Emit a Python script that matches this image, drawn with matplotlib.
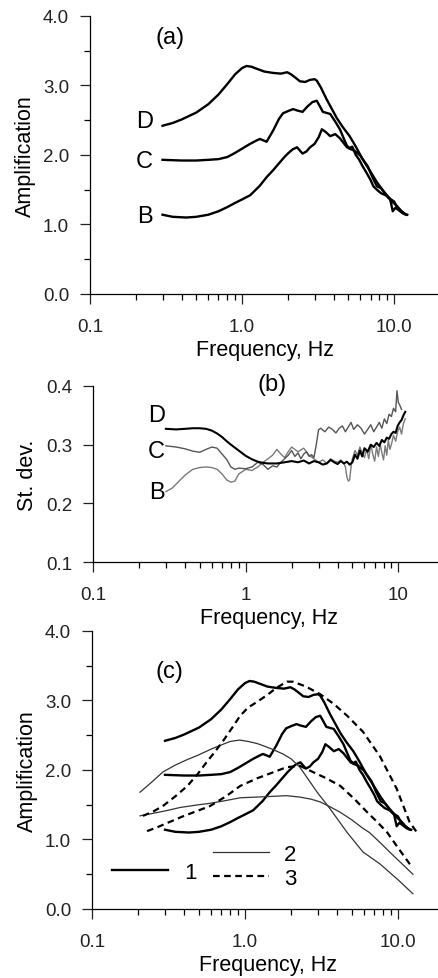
import matplotlib
matplotlib.use("Agg")
import matplotlib.pyplot as plt
from matplotlib.ticker import FixedLocator, FixedFormatter, LogLocator, NullFormatter, MultipleLocator, FormatStrFormatter

plt.rcParams['font.family'] = ['Liberation Sans', 'DejaVu Sans']

# ---- panel (a) / (c): amplification curves of sites D, C, B (curve set 1)
fD = [0.3, 0.35, 0.4, 0.5, 0.6, 0.7, 0.8, 0.9, 1.0, 1.07, 1.15, 1.25, 1.4, 1.6, 1.8, 1.98, 2.1, 2.25, 2.4, 2.6,
      2.8, 3.0, 3.1, 3.3, 3.6, 3.9, 4.2, 4.6, 5.1, 5.6, 6.2, 6.9, 7.7, 8.5, 9.2, 9.8, 10.5, 11.2, 11.8, 12.2]
aD = [2.42, 2.46, 2.51, 2.61, 2.73, 2.87, 3.02, 3.16, 3.25, 3.28, 3.27, 3.24, 3.20, 3.18, 3.17, 3.19, 3.16, 3.11, 3.06, 3.05,
      3.08, 3.09, 3.07, 2.97, 2.80, 2.66, 2.53, 2.40, 2.27, 2.12, 1.94, 1.78, 1.61, 1.48, 1.38, 1.32, 1.26, 1.19, 1.15, 1.14]

fC = [0.3, 0.4, 0.5, 0.6, 0.7, 0.8, 0.9, 1.0, 1.13, 1.25, 1.31, 1.38, 1.45, 1.6, 1.75, 1.86, 2.0, 2.17, 2.3, 2.5,
      2.7, 2.9, 3.1, 3.25, 3.4, 3.8, 4.1, 4.4, 4.7, 4.9, 5.1, 5.3, 5.6, 5.9, 6.2, 6.6, 7.0, 7.3, 7.7, 8.2, 8.8, 9.4,
      9.8, 10.2, 10.8, 11.4, 12.0]
aC = [1.93, 1.92, 1.92, 1.93, 1.94, 1.97, 2.03, 2.09, 2.16, 2.21, 2.23, 2.21, 2.19, 2.35, 2.52, 2.60, 2.63, 2.66, 2.64, 2.62,
      2.70, 2.76, 2.78, 2.70, 2.62, 2.59, 2.48, 2.37, 2.22, 2.13, 2.10, 2.12, 2.00, 1.93, 1.84, 1.74, 1.64, 1.55, 1.50, 1.45,
      1.42, 1.37, 1.19, 1.24, 1.20, 1.16, 1.14]

fB = [0.3, 0.35, 0.43, 0.5, 0.6, 0.7, 0.8, 0.9, 1.0, 1.13, 1.3, 1.45, 1.6, 1.75, 1.9, 2.0, 2.15, 2.3, 2.5, 2.65,
      2.8, 3.0, 3.2, 3.35, 3.55, 3.8, 4.1, 4.4, 4.7, 4.9, 5.1, 5.5, 6.0, 6.4, 6.7, 7.2, 7.7, 8.2, 8.8, 9.4,
      10.0, 10.4, 11.0, 11.8]
aB = [1.14, 1.11, 1.10, 1.11, 1.14, 1.19, 1.25, 1.31, 1.36, 1.42, 1.55, 1.68, 1.78, 1.88, 1.97, 2.02, 2.08, 2.11, 2.02, 2.05,
      2.11, 2.16, 2.26, 2.37, 2.33, 2.27, 2.30, 2.24, 2.16, 2.11, 2.09, 2.06, 1.99, 1.90, 1.84, 1.68, 1.55, 1.52, 1.44, 1.37,
      1.33, 1.26, 1.20, 1.15]

# ---- panel (b): standard deviation
fD_b = [0.3, 0.35, 0.4, 0.45, 0.5, 0.55, 0.6, 0.65, 0.7, 0.75, 0.8, 0.9, 1.0, 1.1, 1.2, 1.3, 1.4, 1.6, 1.8, 2.0,
        2.2, 2.4, 2.6, 2.8, 3.0, 3.2, 3.4, 3.6, 3.8, 4.0, 4.2, 4.4, 4.6, 4.8, 5.0, 5.2, 5.4, 5.6, 5.8, 6.0,
        6.3, 6.6, 6.9, 7.2, 7.5, 7.8, 8.1, 8.4, 8.7, 9.0, 9.3, 9.6, 9.9, 10.2, 10.5, 10.8, 11.1]
sdD = [0.327, 0.326, 0.327, 0.328, 0.328, 0.327, 0.324, 0.319, 0.313, 0.306, 0.300, 0.290, 0.281, 0.275, 0.271, 0.269,
       0.268, 0.268, 0.270, 0.272, 0.270, 0.273, 0.268, 0.272, 0.270, 0.266, 0.268, 0.274, 0.270, 0.267, 0.272, 0.268,
       0.271, 0.266, 0.270, 0.283, 0.276, 0.290, 0.280, 0.294, 0.288, 0.300, 0.296, 0.303, 0.298, 0.308, 0.304, 0.312,
       0.310, 0.318, 0.322, 0.320, 0.332, 0.338, 0.342, 0.350, 0.356]

fC_b = [0.3, 0.35, 0.4, 0.45, 0.5, 0.55, 0.6, 0.65, 0.7, 0.75, 0.8, 0.85, 0.9, 1.0, 1.1, 1.2, 1.3, 1.4, 1.5, 1.6,
        1.7, 1.8, 1.9, 2.0, 2.1, 2.2, 2.3, 2.4, 2.5, 2.6, 2.7, 2.8, 2.9, 3.0, 3.1, 3.3, 3.5, 3.7, 3.9, 4.1,
        4.3, 4.5, 4.7, 4.9, 5.1, 5.4, 5.7, 6.0, 6.3, 6.6, 6.9, 7.2, 7.5, 7.8, 8.1, 8.4, 8.7, 9.0, 9.3, 9.6,
        9.8, 10.0, 10.2, 10.5]
sdC = [0.298, 0.296, 0.293, 0.289, 0.287, 0.292, 0.296, 0.294, 0.284, 0.275, 0.262, 0.258, 0.260, 0.259, 0.262, 0.270,
       0.266, 0.258, 0.264, 0.262, 0.270, 0.276, 0.282, 0.290, 0.280, 0.286, 0.276, 0.284, 0.288, 0.280, 0.283, 0.278,
       0.300, 0.325, 0.328, 0.322, 0.330, 0.326, 0.320, 0.328, 0.332, 0.322, 0.330, 0.338, 0.326, 0.334, 0.328, 0.318,
       0.326, 0.334, 0.322, 0.330, 0.338, 0.328, 0.344, 0.336, 0.352, 0.348, 0.362, 0.356, 0.392, 0.372, 0.368, 0.360]

fB_b = [0.3, 0.33, 0.36, 0.4, 0.45, 0.5, 0.55, 0.6, 0.65, 0.7, 0.75, 0.8, 0.85, 0.9, 1.0, 1.1, 1.2, 1.3, 1.4, 1.5,
        1.6, 1.7, 1.8, 1.9, 2.0, 2.2, 2.4, 2.6, 2.8, 3.0, 3.2, 3.4, 3.6, 3.8, 4.0, 4.2, 4.4, 4.5, 4.6, 4.7,
        4.8, 4.9, 5.0, 5.2, 5.4, 5.6, 5.8, 6.0, 6.2, 6.4, 6.6, 6.8, 7.0, 7.2, 7.4, 7.6, 7.8, 8.0, 8.2, 8.4,
        8.6, 8.8, 9.0, 9.3, 9.6, 9.9, 10.2, 10.5, 10.8, 11.1]
sdB = [0.220, 0.226, 0.236, 0.248, 0.258, 0.261, 0.262, 0.261, 0.258, 0.250, 0.240, 0.236, 0.238, 0.250, 0.258, 0.256,
       0.262, 0.270, 0.276, 0.282, 0.292, 0.284, 0.278, 0.288, 0.296, 0.288, 0.294, 0.282, 0.276, 0.270, 0.274, 0.268,
       0.276, 0.272, 0.270, 0.274, 0.268, 0.262, 0.245, 0.238, 0.240, 0.262, 0.276, 0.290, 0.282, 0.296, 0.286, 0.278,
       0.292, 0.276, 0.300, 0.284, 0.272, 0.296, 0.280, 0.302, 0.286, 0.274, 0.298, 0.282, 0.308, 0.292, 0.300, 0.316,
       0.306, 0.322, 0.330, 0.318, 0.336, 0.344]

# ---- panel (c): curve sets 2 (thin) and 3 (dashed)
f2a = [0.206, 0.25, 0.29, 0.35, 0.42, 0.49, 0.6, 0.7, 0.8, 0.92, 1.05, 1.2, 1.31, 1.5, 1.77, 2.0, 2.28, 2.6, 2.96,
       3.6, 4.65, 5.9, 7.6, 10.0, 12.5]
a2a = [1.68, 1.84, 1.97, 2.07, 2.15, 2.21, 2.30, 2.36, 2.41, 2.43, 2.41, 2.38, 2.35, 2.30, 2.23, 2.16, 2.04, 1.86, 1.68,
       1.44, 1.10, 0.82, 0.65, 0.42, 0.22]
f2b = [0.206, 0.3, 0.376, 0.5, 0.59, 0.75, 0.93, 1.2, 1.5, 1.87, 2.28, 2.7, 3.1, 3.6, 4.2, 5.0, 5.9, 6.5, 7.6, 9.0,
       10.5, 12.5]
a2b = [1.34, 1.41, 1.46, 1.50, 1.52, 1.56, 1.60, 1.61, 1.62, 1.63, 1.61, 1.58, 1.54, 1.47, 1.39, 1.28, 1.16, 1.10, 0.96,
       0.80, 0.66, 0.50]
f3a = [0.215, 0.25, 0.29, 0.35, 0.42, 0.49, 0.56, 0.64, 0.72, 0.82, 0.93, 1.05, 1.2, 1.4, 1.6, 1.88, 2.06, 2.5, 3.1,
       3.8, 4.65, 5.9, 7.6, 9.8, 11.9, 13.3]
a3a = [1.34, 1.40, 1.48, 1.62, 1.77, 1.94, 2.11, 2.27, 2.42, 2.60, 2.78, 2.90, 2.98, 3.08, 3.18, 3.27, 3.27, 3.20, 3.09,
       2.95, 2.78, 2.55, 2.20, 1.73, 1.25, 1.10]
f3b = [0.229, 0.27, 0.32, 0.4, 0.5, 0.59, 0.75, 0.93, 1.2, 1.5, 1.87, 2.28, 2.78, 3.4, 4.2, 5.2, 6.3, 7.4, 8.5, 10.0,
       11.9, 12.5]
a3b = [1.12, 1.18, 1.25, 1.34, 1.42, 1.48, 1.62, 1.77, 1.88, 1.96, 2.04, 2.06, 1.97, 1.88, 1.77, 1.58, 1.39, 1.24, 1.10,
       0.88, 0.65, 0.60]

xticks_ac = ['0.1', '1.0', '10.0']
xticks_b = ['0.1', '1', '10']

DASH = (0, (3, 2))
LBL = 15.5
TCK = 13.5
TXT = 17


def style_axes(ax, xlabels):
    ax.set_xscale('log')
    ax.set_xlim(0.1, 20)
    ax.spines['top'].set_visible(False)
    ax.spines['right'].set_visible(False)
    ax.xaxis.set_major_locator(FixedLocator([0.1, 1, 10]))
    ax.xaxis.set_major_formatter(FixedFormatter(xlabels))
    ax.xaxis.set_minor_locator(LogLocator(base=10, subs=range(2, 10)))
    ax.xaxis.set_minor_formatter(NullFormatter())
    ax.tick_params(which='major', direction='out', length=7, width=0.9, labelsize=TCK, colors='#222222')
    ax.tick_params(which='minor', direction='out', length=4, width=0.9)
    ax.tick_params(axis='x', which='major', pad=10)
    ax.tick_params(axis='y', which='major', pad=8)
    ax.set_xlabel('Frequency, Hz', fontsize=LBL, labelpad=3)
    for s in ax.spines.values():
        s.set_linewidth(0.9)


def amp_axis(ax):
    ax.set_ylim(0, 4)
    ax.yaxis.set_major_locator(MultipleLocator(1))
    ax.yaxis.set_minor_locator(MultipleLocator(0.5))
    ax.yaxis.set_major_formatter(FormatStrFormatter('%.1f'))
    ax.set_ylabel('Amplification', fontsize=LBL, labelpad=5)


def do_plot():
    fig = plt.figure(figsize=(4.39, 9.79), dpi=100)

    # (a)
    ax = fig.add_axes([0.205, 0.6987, 0.797, 0.284])
    for f, a in [(fD, aD), (fC, aC), (fB, aB)]:
        ax.plot(f, a, color='black', lw=1.7)
    style_axes(ax, xticks_ac)
    amp_axis(ax)
    ax.text(0.26, 2.49, 'D', fontsize=TXT, ha='right', va='center')
    ax.text(0.26, 1.91, 'C', fontsize=TXT, ha='right', va='center')
    ax.text(0.26, 1.12, 'B', fontsize=TXT, ha='right', va='center')
    ax.text(0.336, 3.70, '(a)', fontsize=TXT, ha='center', va='center')

    # (b)
    ax = fig.add_axes([0.212, 0.4249, 0.80, 0.1798])
    ax.plot(fB_b, sdB, color='#7a7a7a', lw=1.0)
    ax.plot(fC_b, sdC, color='#555555', lw=1.0)
    ax.plot(fD_b, sdD, color='black', lw=1.5)
    style_axes(ax, xticks_b)
    ax.set_ylim(0.1, 0.4)
    ax.yaxis.set_major_locator(MultipleLocator(0.1))
    ax.yaxis.set_major_formatter(FormatStrFormatter('%.1f'))
    ax.set_ylabel('St. dev.', fontsize=LBL, labelpad=6)
    ax.text(0.295, 0.351, 'D', fontsize=TXT, ha='right', va='center')
    ax.text(0.295, 0.289, 'C', fontsize=TXT, ha='right', va='center')
    ax.text(0.295, 0.219, 'B', fontsize=TXT, ha='right', va='center')
    ax.text(1.49, 0.403, '(b)', fontsize=TXT, ha='center', va='center', clip_on=False)

    # (c)
    ax = fig.add_axes([0.2096, 0.0705, 0.802, 0.284])
    for f, a in [(fD, aD), (fC, aC), (fB, aB)]:
        l1, = ax.plot(f, a, color='black', lw=1.7)
    for f, a in [(f2a, a2a), (f2b, a2b)]:
        l2, = ax.plot(f, a, color='#333333', lw=0.9)
    for f, a in [(f3a, a3a), (f3b, a3b)]:
        l3, = ax.plot(f, a, color='black', lw=1.6, linestyle=DASH)
    style_axes(ax, xticks_ac)
    amp_axis(ax)
    ax.text(0.323, 3.42, '(c)', fontsize=TXT, ha='center', va='center')

    leg1 = ax.legend([l1], ['1'], loc='center left', bbox_to_anchor=(0.057, 0.133), frameon=False,
                     fontsize=16, handlelength=2.5, handletextpad=0.75, borderpad=0, borderaxespad=0)
    ax.add_artist(leg1)
    ax.legend([l2, l3], ['2', '3'], loc='center left', bbox_to_anchor=(0.344, 0.153), frameon=False,
              fontsize=16, handlelength=2.5, handletextpad=0.7, labelspacing=0.15, borderpad=0, borderaxespad=0)

    fig.savefig('out.png', dpi=100)


if __name__ == '__main__':
    do_plot()
